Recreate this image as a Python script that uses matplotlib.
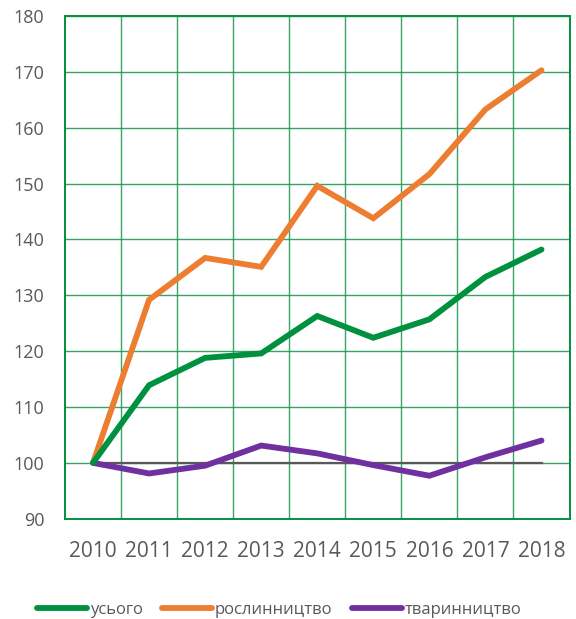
import matplotlib.pyplot as plt
from matplotlib.ticker import FixedLocator

# данные (индексы, 2010 = 100)
years = ['2010', '2011', '2012', '2013', '2014', '2015', '2016', '2017', '2018']
usogo = [100, 113.9, 118.8, 119.6, 126.3, 122.4, 125.7, 133.3, 138.2]
roslynnytstvo = [100, 129.2, 136.7, 135.1, 149.6, 143.8, 151.7, 163.3, 170.3]
tvarynnytstvo = [100, 98.1, 99.5, 103.1, 101.7, 99.6, 97.7, 101.0, 104.0]
baseline = [100] * len(years)

plt.rcParams['font.family'] = ['Open Sans', 'DejaVu Sans']

grid_col = '#1f9a55'
text_col = '#595959'

fig = plt.figure(figsize=(5.76, 6.19), dpi=100)
ax = fig.add_axes([0.1128, 0.162, 0.876, 0.812])

x = list(range(len(years)))
ax.plot(x, baseline, color='#595959', lw=1.6, zorder=2)
ax.plot(x, usogo, color='#00913f', lw=4.2, solid_capstyle='round',
        solid_joinstyle='miter', label='усього', zorder=4)
ax.plot(x, roslynnytstvo, color='#ed7d31', lw=4.2, solid_capstyle='round',
        solid_joinstyle='miter', label='рослинництво', zorder=3)
ax.plot(x, tvarynnytstvo, color='#7030a0', lw=4.2, solid_capstyle='round',
        solid_joinstyle='miter', label='тваринництво', zorder=3)

ax.set_xlim(-0.5, len(years) - 0.5)
ax.set_ylim(90, 180)
ax.set_yticks(range(90, 181, 10))
ax.set_xticks(x)
ax.set_xticklabels(years)
ax.xaxis.set_minor_locator(FixedLocator([i + 0.5 for i in range(len(years) - 1)]))

ax.grid(True, axis='y', which='major', color=grid_col, lw=1.0, alpha=0.9)
ax.grid(True, axis='x', which='minor', color=grid_col, lw=1.0, alpha=0.9)
ax.set_axisbelow(True)

for s in ax.spines.values():
    s.set_color('#00913f')
    s.set_linewidth(1.4)

ax.tick_params(axis='both', which='both', length=0)
ax.tick_params(axis='y', labelsize=13, colors=text_col, pad=15)
ax.tick_params(axis='x', labelsize=15, colors=text_col, pad=16)

fig.legend(loc='lower center', bbox_to_anchor=(0.485, -0.014), ncol=3,
           frameon=False, fontsize=12, handlelength=3.0, handletextpad=0.15,
           columnspacing=1.2, labelcolor=text_col, borderaxespad=0.2)

fig.savefig('out.png', dpi=100)
